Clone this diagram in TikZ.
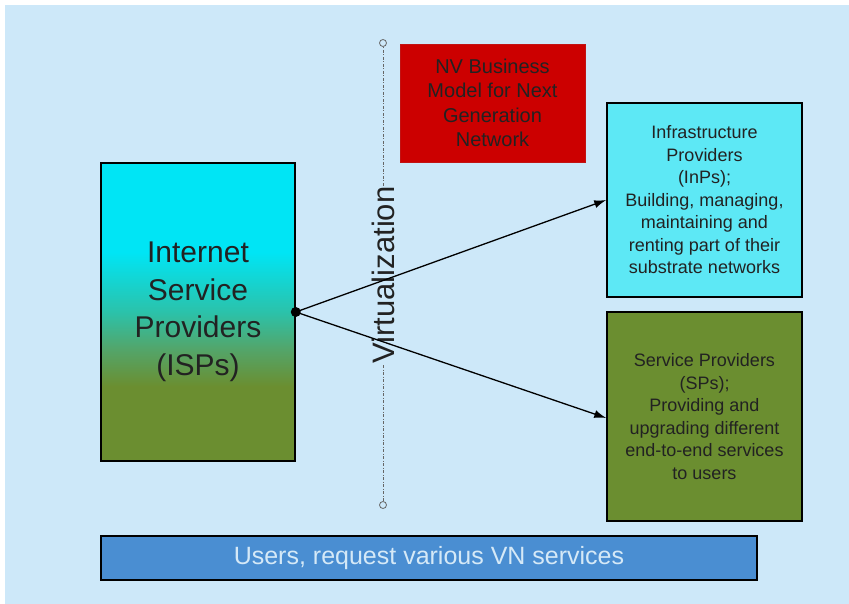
\documentclass[tikz,border=0pt]{standalone}
\usepackage{fontspec}
\setmainfont{Liberation Sans}
\usetikzlibrary{arrows.meta}
\definecolor{bgblue}{HTML}{CDE8F9}
\definecolor{ispcyan}{HTML}{00E5F5}
\definecolor{ispteal}{HTML}{2BC2AA}
\definecolor{ispmid}{HTML}{52A66C}
\definecolor{ispgreen}{HTML}{6B8E30}
\definecolor{inpfill}{HTML}{5DE8F5}
\definecolor{spfill}{HTML}{6B8E30}
\definecolor{userfill}{HTML}{4A8ED2}
\definecolor{userstext}{HTML}{D5E9F7}
\definecolor{nvred}{HTML}{CC0000}
\definecolor{txtdark}{HTML}{222222}
\definecolor{vline}{HTML}{666666}
\pgfdeclareverticalshading{ispshade}{100bp}{color(0bp)=(ispgreen); color(37.5bp)=(ispgreen); color(44bp)=(ispmid); color(50bp)=(ispteal); color(60bp)=(ispcyan); color(100bp)=(ispcyan)}
\tikzset{
  box/.style={draw=black, line width=1.5pt, rectangle, inner sep=0pt, align=center, text=txtdark},
  smalltext/.style={font=\fontsize{18}{22.5}\selectfont},
  endcirc/.style={circle, draw=vline, line width=0.8pt, fill=bgblue, minimum size=7pt, inner sep=0pt},
  conn/.style={line width=1.3pt, -{Latex[length=12pt,width=8pt]}}
}
\begin{document}
\begin{tikzpicture}[x=1pt,y=-1pt]
\fill[white] (0,0) rectangle (849,604);
\useasboundingbox (0,0) rectangle (849,604);
\fill[bgblue] (5,5) rectangle (850,605);
% vertical virtualization line
\coordinate (vtop) at (383,43);
\coordinate (vbot) at (383,505);
\draw[vline, line width=0.8pt, dash pattern=on 3pt off 1.5pt on 1pt off 1.5pt] (vtop) -- (vbot);
\node[endcirc] (ctop) at (vtop) {};
\node[endcirc] (cbot) at (vbot) {};
\node[fill=bgblue, inner sep=1pt, rotate=90, text=txtdark, font=\fontsize{31}{36}\selectfont] (virt) at (383,275) {Virtualization};
% boxes
\node[box, shade, shading=ispshade, minimum width=194pt, minimum height=298pt, font=\fontsize{30}{37.5}\selectfont] (isp) at (198,312) {Internet\\Service\\Providers\\(ISPs)};
\node[rectangle, fill=nvred, draw=nvred!85!gray, line width=0.5pt, inner sep=0pt, minimum width=185pt, minimum height=118pt, align=center, text=txtdark, font=\fontsize{20}{24.5}\selectfont] (nv) at (492.5,103) {NV Business\\Model for Next\\Generation\\Network};
\node[box, fill=inpfill, smalltext, minimum width=195pt, minimum height=194pt] (inp) at (704.5,200) {Infrastructure\\Providers\\(InPs);\\Building, managing,\\maintaining and\\renting part of their\\substrate networks};
\node[box, fill=spfill, smalltext, minimum width=195pt, minimum height=209pt] (sp) at (704.5,416.5) {Service Providers\\(SPs);\\Providing and\\upgrading different\\end-to-end services\\to users};
\node[box, fill=userfill, minimum width=656pt, minimum height=44pt, text=userstext, font=\fontsize{25}{30}\selectfont] (users) at (429,558) {Users, request various VN services};
% connectors
\fill[black] (isp.east) circle (5pt);
\draw[conn] (isp.east) -- (inp.west);
\draw[conn] (isp.east) -- ([yshift=-1.5pt]sp.west);
\end{tikzpicture}
\end{document}
